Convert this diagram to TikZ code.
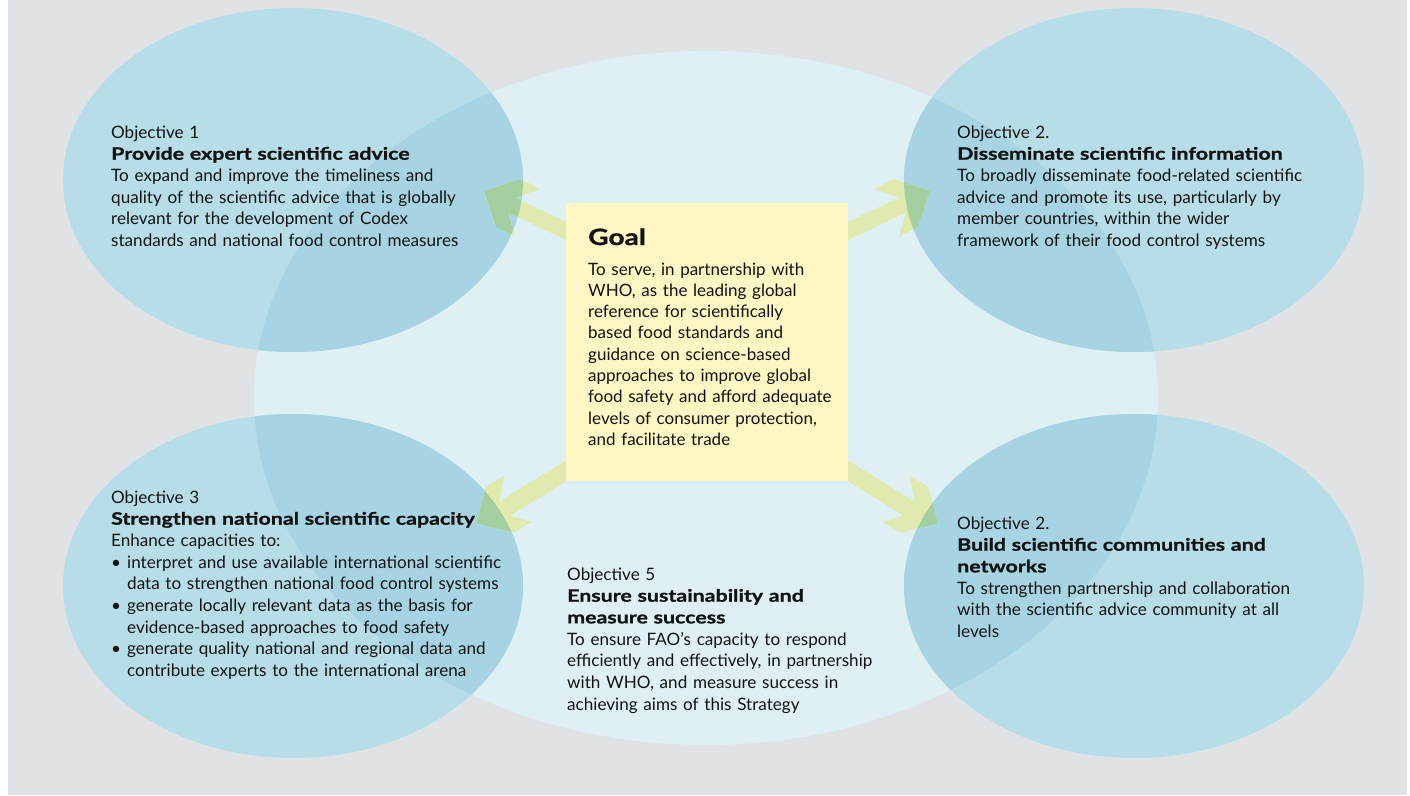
\documentclass[tikz,border=0pt]{standalone}
\usepackage{fontspec}
\setmainfont{Lato}
\newfontfamily\widebold{Lato}[FakeStretch=1.25, FakeBold=1]
\newcommand\boldw[1]{{\widebold\bfseries #1}}
\definecolor{bggray}{HTML}{DFE3E6}
\definecolor{bigblue}{HTML}{DFF0F5}
\definecolor{objblue}{HTML}{B6DDE8}
\definecolor{objdark}{HTML}{A6D4E2}
\definecolor{arrowlight}{HTML}{E1EAAE}
\definecolor{arrowgreen}{HTML}{A3CF9F}
\definecolor{boxyellow}{HTML}{FEF7C3}
\definecolor{txt}{HTML}{121212}
\tikzset{
  objtext/.style={anchor=base west, inner sep=0pt, text width=460pt, align=left,
    font=\fontsize{17.1}{21.7}\selectfont, text=txt},
  goalbox/.style={fill=boxyellow, draw=none, minimum width=282pt, minimum height=278pt, inner sep=0pt},
}
\begin{document}
\begin{tikzpicture}[x=1pt,y=-1pt]
\useasboundingbox (0,0) rectangle (1410,795);
\fill[white] (0,0) rectangle (1410,795);
\fill[bggray] (8,0) rectangle (1407,795);
% big central ellipse
\fill[bigblue] (706,398) ellipse [x radius=452, y radius=347];
% objective ellipses
\def\ellA{(293,180) ellipse [x radius=230, y radius=172]}
\def\ellB{(1134,180) ellipse [x radius=230, y radius=172]}
\def\ellC{(293,586) ellipse [x radius=230, y radius=172]}
\def\ellD{(1134,586) ellipse [x radius=230, y radius=172]}
\fill[objblue] \ellA;
\fill[objblue] \ellB;
\fill[objblue] \ellC;
\fill[objblue] \ellD;
\begin{scope}
  \clip (706,398) ellipse [x radius=452, y radius=347];
  \fill[objdark] \ellA;
  \fill[objdark] \ellB;
  \fill[objdark] \ellC;
  \fill[objdark] \ellD;
\end{scope}
% arrows
\def\arrTL{(484,191) -- (520.7,179) -- (540,189) -- (515,197.7) -- (575,226.3) -- (575,244.3) -- (508,212.3) -- (515,236.7) -- (496,226.7) -- cycle}
\def\arrTR{(930,191) -- (893.3,179) -- (874,189) -- (899,197.7) -- (839,226.3) -- (839,244.3) -- (906,212.3) -- (899,236.7) -- (918,226.7) -- cycle}
\def\arrBL{(476,523.3) -- (486,486.7) -- (504.3,475.7) -- (499.3,501.7) -- (575,454.8) -- (575,475.7) -- (510,516) -- (531.7,521.7) -- (513.3,532.7) -- cycle}
\def\arrBR{(938,523.3) -- (928,486.7) -- (909.7,475.7) -- (914.7,501.7) -- (839,454.8) -- (839,475.7) -- (904,516) -- (882.3,521.7) -- (900.7,532.7) -- cycle}
\fill[arrowlight] \arrTL;
\fill[arrowlight] \arrTR;
\fill[arrowlight] \arrBL;
\fill[arrowlight] \arrBR;
\begin{scope}\clip \ellA; \fill[arrowgreen] \arrTL; \end{scope}
\begin{scope}\clip \ellB; \fill[arrowgreen] \arrTR; \end{scope}
\begin{scope}\clip \ellC; \fill[arrowgreen] \arrBL; \end{scope}
\begin{scope}\clip \ellD; \fill[arrowgreen] \arrBR; \end{scope}
% goal box
\node[goalbox] (goal) at (707,342) {};
\node[anchor=base west, inner sep=0pt, font=\fontsize{22.5}{30}\selectfont, text=txt] (goaltitle) at (588,245) {\boldw{Goal}};
\node[objtext, text width=255pt, font=\fontsize{17}{21.3}\selectfont] (goaltext) at (588,275)
 {To serve, in partnership with\\ WHO, as the leading global\\ reference for scientifically\\ based food standards and\\ guidance on science-based\\ approaches to improve global\\ food safety and afford adequate\\ levels of consumer protection,\\ and facilitate trade};
% objectives
\node[objtext] (o1) at (111,138)
 {Objective 1\\ \boldw{Provide expert scientific advice}\\ To expand and improve the timeliness and\\ quality of the scientific advice that is globally\\ relevant for the development of Codex\\ standards and national food control measures};
\node[objtext] (o2) at (957,138)
 {Objective 2.\\ \boldw{Disseminate scientific information}\\ To broadly disseminate food-related scientific\\ advice and promote its use, particularly by\\ member countries, within the wider\\ framework of their food control systems};
\node[objtext] (o3) at (111,503)
 {Objective 3\\ \boldw{Strengthen national scientific capacity}\\ Enhance capacities to:\\
 \makebox[16pt][l]{\textbullet}interpret and use available international scientific\\
 \hspace*{16pt}data to strengthen national food control systems\\
 \makebox[16pt][l]{\textbullet}generate locally relevant data as the basis for\\
 \hspace*{16pt}evidence-based approaches to food safety\\
 \makebox[16pt][l]{\textbullet}generate quality national and regional data and\\
 \hspace*{16pt}contribute experts to the international arena};
\node[objtext] (o4) at (957,529)
 {Objective 2.\\ \boldw{Build scientific communities and}\\ \boldw{networks}\\ To strengthen partnership and collaboration\\ with the scientific advice community at all\\ levels};
\node[objtext] (o5) at (567,580)
 {Objective 5\\ \boldw{Ensure sustainability and}\\ \boldw{measure success}\\ To ensure FAO's capacity to respond\\ efficiently and effectively, in partnership\\ with WHO, and measure success in\\ achieving aims of this Strategy};
\end{tikzpicture}
\end{document}
